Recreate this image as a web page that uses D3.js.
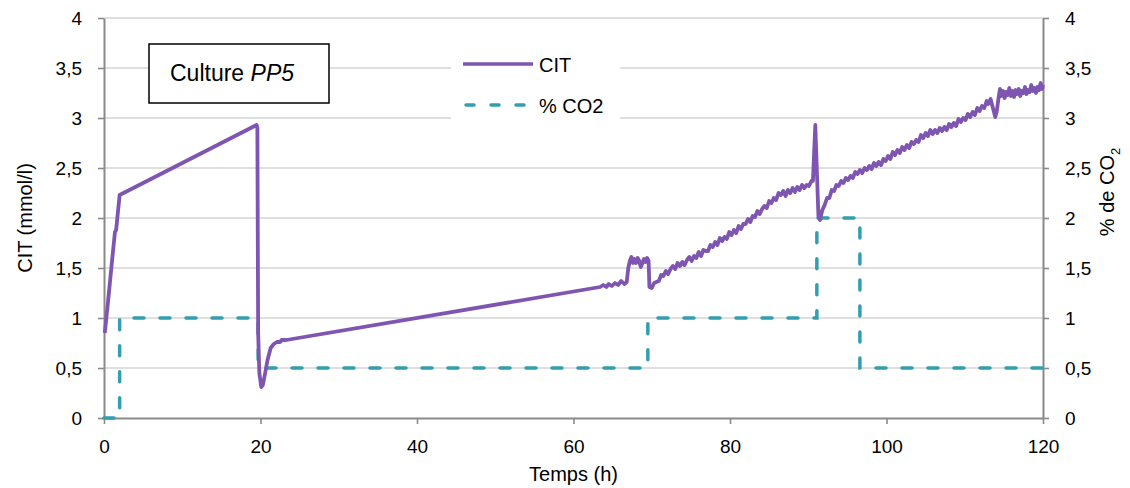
<!DOCTYPE html>
<html><head><meta charset="utf-8">
<script src="https://cdn.jsdelivr.net/npm/d3@7"></script>
<style>
body{margin:0;background:#fff;}
text{font-family:"Liberation Sans",Arial,sans-serif;fill:#000;}
</style></head>
<body><svg id="c" width="1130" height="488"></svg>
<script>
// ---- data ----
const xTicks = [0,20,40,60,80,100,120];
const yTicks = [0,0.5,1,1.5,2,2.5,3,3.5,4];
const yTickLabels = ["0","0,5","1","1,5","2","2,5","3","3,5","4"];
const seriesNames = ["CIT","% CO2"];
// CO2 (%) step changes: [time h, value from this time on]
const co2Steps = [[0,0],[2,1],[19.7,0.5],[69.5,1],[91.1,2],[96.6,0.5],[120,0.5]];
// CIT (mmol/l): [time h, value]
const citSeries = [
[0.1,0.85],[0.5,1.15],[1.0,1.55],[1.4,1.86],[1.55,1.88],[2.0,2.23],[19.5,2.93],[19.6,2.9],[19.7,0.85],[19.85,0.45],[20.1,0.31],[20.3,0.33],[20.6,0.45],[20.9,0.58],[21.3,0.7],[21.7,0.74],[22.1,0.76],[22.5,0.76],[22.7,0.78],[23.3,0.78],
[63.4,1.31],[63.8,1.33],[64.2,1.31],[64.5,1.34],[64.9,1.32],[65.3,1.35],[65.7,1.33],[66.1,1.37],[66.5,1.34],[66.8,1.36],[67.0,1.5],[67.2,1.57],[67.4,1.61],[67.6,1.55],[67.8,1.59],[68.0,1.55],[68.2,1.6],[68.4,1.57],[68.6,1.51],[68.8,1.55],[69.0,1.59],[69.2,1.56],[69.4,1.6],[69.6,1.57],
[69.7,1.31],[70.0,1.3],[70.3,1.35],[70.6,1.36],[70.9,1.37],[71.2,1.43],[71.5,1.42],[71.8,1.47],[72.1,1.44],[72.4,1.49],[72.7,1.52],[73.0,1.49],[73.3,1.55],[73.6,1.52],[73.9,1.56],[74.2,1.53],[74.5,1.58],[74.8,1.61],[75.1,1.57],[75.4,1.62],[75.7,1.6],[76.0,1.66],[76.3,1.62],[76.6,1.68],[76.9,1.67],[77.2,1.67],[77.5,1.73],[77.8,1.71],[78.1,1.76],[78.4,1.73],[78.7,1.8],[79.0,1.77],[79.3,1.81],[79.6,1.79],[79.9,1.86],[80.2,1.83],[80.5,1.88],[80.8,1.85],[81.1,1.92],[81.4,1.89],[81.7,1.94],[82.0,1.94],[82.3,1.99],[82.6,1.96],[82.9,2.02],[83.2,2.01],[83.5,2.07],[83.8,2.04],[84.1,2.09],[84.4,2.12],[84.7,2.1],[85.0,2.17],[85.3,2.15],[85.6,2.2],[85.9,2.18],[86.2,2.25],[86.5,2.23],[86.8,2.27],[87.1,2.22],[87.4,2.28],[87.7,2.25],[88.0,2.3],[88.3,2.26],[88.6,2.31],[88.9,2.28],[89.2,2.33],[89.5,2.3],[89.8,2.33],[90.1,2.32],[90.4,2.37],[90.6,2.37],
[90.9,2.93],[91.3,2.02],[91.5,1.98],[91.8,2.08],[92.1,2.13],[92.4,2.2],[92.7,2.2],[93.0,2.28],[93.3,2.27],[93.6,2.33],[93.9,2.32],[94.2,2.37],[94.5,2.35],[94.8,2.4],[95.1,2.38],[95.4,2.42],[95.7,2.4],[96.0,2.46],[96.3,2.44],[96.6,2.48],[96.9,2.45],[97.2,2.5],[97.5,2.48],[97.8,2.52],[98.1,2.49],[98.4,2.55],[98.7,2.52],[99.0,2.56],[99.3,2.53],[99.6,2.59],[99.9,2.57],[100.2,2.62],[100.5,2.59],[100.8,2.66],[101.1,2.63],[101.4,2.68],[101.7,2.65],[102.0,2.71],[102.3,2.68],[102.6,2.73],[102.9,2.7],[103.2,2.76],[103.5,2.74],[103.8,2.78],[104.1,2.76],[104.4,2.83],[104.7,2.8],[105.0,2.85],[105.3,2.82],[105.6,2.88],[105.9,2.84],[106.2,2.88],[106.5,2.85],[106.8,2.9],[107.1,2.87],[107.4,2.91],[107.7,2.88],[108.0,2.94],[108.3,2.91],[108.6,2.95],[108.9,2.92],[109.2,2.99],[109.5,2.96],[109.8,3.0],[110.1,2.98],[110.4,3.04],[110.7,3.01],[111.0,3.06],[111.3,3.03],[111.6,3.1],[111.9,3.07],[112.2,3.12],[112.5,3.1],[112.8,3.17],[113.0,3.14],[113.3,3.19],[113.6,3.1],[113.9,3.01],[114.1,3.07],[114.3,3.19],[114.5,3.29],
[114.7,3.22],[114.9,3.27],[115.1,3.2],[115.3,3.26],[115.5,3.23],[115.7,3.3],[115.9,3.22],[116.1,3.27],[116.3,3.21],[116.5,3.28],[116.7,3.24],[116.9,3.29],[117.1,3.22],[117.3,3.27],[117.5,3.25],[117.7,3.31],[117.9,3.24],[118.1,3.28],[118.3,3.26],[118.5,3.33],[118.7,3.27],[118.9,3.3],[119.1,3.25],[119.3,3.31],[119.5,3.28],[119.7,3.35],[119.9,3.29],[120.0,3.33]
];

// ---- layout ----
const L = 104, R = 1043, T = 18, B = 418;
const purple = "#7e56b2", teal = "#339eb0", axisCol = "#8a8a8a", gridCol = "#d4d4d4";
const svg = d3.select("#c");
const x = d3.scaleLinear().domain([0,120]).range([L,R]);
const y = d3.scaleLinear().domain([0,4]).range([B,T]);

// gridlines
svg.append("g").selectAll("line").data(yTicks.filter(d=>d>0)).join("line")
  .attr("x1",L).attr("x2",R).attr("y1",d=>y(d)).attr("y2",d=>y(d))
  .attr("stroke",gridCol).attr("stroke-width",1.6);

// axes
function styleAxis(g){
  g.select(".domain").attr("stroke",axisCol).attr("stroke-width",2);
  g.selectAll(".tick line").attr("stroke",axisCol).attr("stroke-width",1.6);
  g.selectAll(".tick text").style("font-size","19px").attr("fill","#000");
}
const fmt = d => yTickLabels[yTicks.indexOf(d)];
svg.append("g").attr("transform",`translate(${L},0)`)
  .call(d3.axisLeft(y).tickValues(yTicks).tickFormat(fmt).tickSize(6).tickSizeOuter(0).tickPadding(16))
  .call(styleAxis);
svg.append("g").attr("transform",`translate(${R},0)`)
  .call(d3.axisRight(y).tickValues(yTicks).tickFormat(fmt).tickSize(6).tickSizeOuter(0).tickPadding(16))
  .call(styleAxis);
svg.append("g").attr("transform",`translate(0,${B})`)
  .call(d3.axisBottom(x).tickValues(xTicks).tickSize(6).tickSizeOuter(0).tickPadding(16))
  .call(styleAxis);

// CO2 step line
const co2Line = d3.line().x(d=>x(d[0])).y(d=>y(d[1])).curve(d3.curveStepAfter);
svg.append("path").datum(co2Steps).attr("d",co2Line)
  .attr("fill","none").attr("stroke",teal).attr("stroke-width",3.5)
  .attr("stroke-dasharray","10 16").attr("stroke-linecap","round");

// CIT line
const citLine = d3.line().x(d=>x(d[0])).y(d=>y(d[1]));
svg.append("path").datum(citSeries).attr("d",citLine)
  .attr("fill","none").attr("stroke",purple).attr("stroke-width",3.8)
  .attr("stroke-linejoin","round");

// axis titles
svg.append("text").attr("transform","translate(32,218) rotate(-90)")
  .attr("text-anchor","middle").style("font-size","20px").text("CIT (mmol/l)");
svg.append("text").attr("x",x(60)).attr("y",481)
  .attr("text-anchor","middle").style("font-size","20px").text("Temps (h)");
const rt = svg.append("text").attr("transform","translate(1114,192) rotate(-90)")
  .attr("text-anchor","middle").style("font-size","20px");
rt.append("tspan").text("% de CO");
rt.append("tspan").attr("dy",6).style("font-size","13px").text("2");

// title box
svg.append("rect").attr("x",149).attr("y",44).attr("width",180).attr("height",59)
  .attr("fill","#fff").attr("stroke","#000").attr("stroke-width",1.5);
const tt = svg.append("text").attr("x",170).attr("y",81).style("font-size","23px");
tt.append("tspan").text("Culture ");
tt.append("tspan").style("font-style","italic").text("PP5");

// legend
svg.append("rect").attr("x",451).attr("y",42).attr("width",169).attr("height",86).attr("fill","#fff");
const lg = svg.append("g");
lg.append("line").attr("x1",463).attr("x2",533).attr("y1",64).attr("y2",64)
  .attr("stroke",purple).attr("stroke-width",3.5);
lg.append("text").attr("x",539).attr("y",72).style("font-size","20px").text(seriesNames[0]);
lg.append("line").attr("x1",466).attr("x2",527).attr("y1",105).attr("y2",105)
  .attr("stroke",teal).attr("stroke-width",3.5).attr("stroke-dasharray","8 17").attr("stroke-linecap","round");
lg.append("text").attr("x",539).attr("y",113).style("font-size","20px").text(seriesNames[1]);
</script></body></html>
